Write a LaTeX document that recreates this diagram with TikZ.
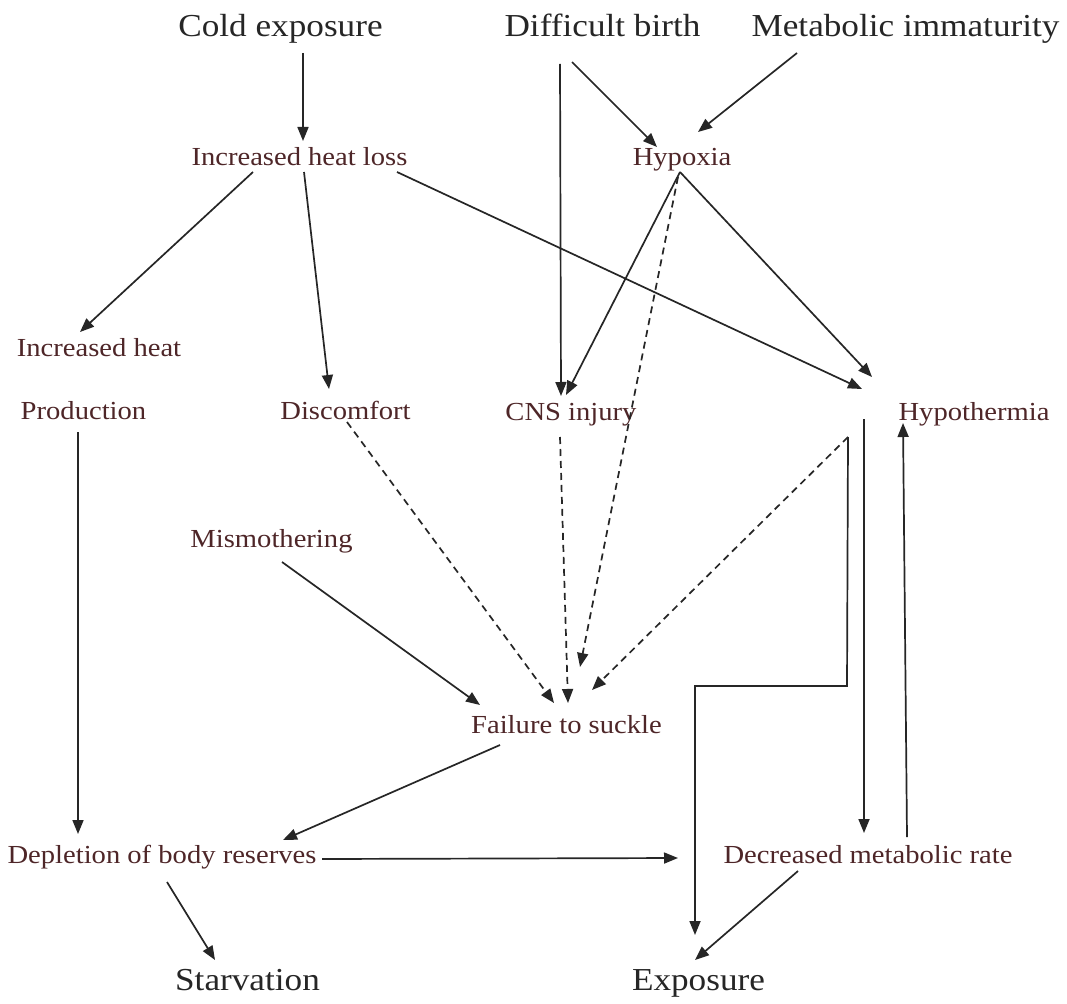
\documentclass[tikz,border=0pt]{standalone}
\usepackage{fontspec}
\setmainfont{Liberation Serif}[FakeStretch=1.1]
\usetikzlibrary{arrows.meta,calc}
\definecolor{bigtxt}{HTML}{262626}
\definecolor{midtxt}{HTML}{4E2628}
\definecolor{linec}{HTML}{262626}
\tikzset{
  big/.style={anchor=base,inner sep=0pt,text=bigtxt,font=\fontsize{32}{36}\selectfont},
  mid/.style={anchor=base,inner sep=0pt,text=midtxt,font=\fontsize{26}{30}\selectfont},
  arr/.style={draw=linec,line width=1.7pt,-{Triangle[length=14pt,width=11pt]}},
  darr/.style={arr,dash pattern=on 7pt off 5pt},
  plain/.style={draw=linec,line width=1.7pt}
}
\begin{document}
\begin{tikzpicture}[x=1pt,y=-1pt]
\useasboundingbox[fill=white] (0,0) rectangle (1067,1003);
% nodes (base positions)
\node[big] (cold) at (280.5,37) {Cold exposure};
\node[big] (difficult) at (602.5,37) {Difficult birth};
\node[big] (metabolic) at (905.5,37) {Metabolic immaturity};
\node[mid] (heatloss) at (299.5,166) {Increased heat loss};
\node[mid] (hypoxia) at (682,166) {Hypoxia};
\node[mid] (incheat) at (99,356) {Increased heat};
\node[mid] (production) at (83.5,419) {Production};
\node[mid] (discomfort) at (345.5,419) {Discomfort};
\node[mid] (cns) at (571,420) {CNS injury};
\node[mid] (hypothermia) at (974,420) {Hypothermia};
\node[mid] (mismothering) at (271.5,547) {Mismothering};
\node[mid] (failure) at (566.5,733) {Failure to suckle};
\node[mid] (depletion) at (162,863) {Depletion of body reserves};
\node[mid] (decreased) at (868,863) {Decreased metabolic rate};
\node[big] (starvation) at (247.5,990) {Starvation};
\node[big] (exposure) at (698.5,990) {Exposure};
% connectors
\draw[arr] ($(cold.base)+(22.5,16)$) -- ($(heatloss.base)+(3.5,-25)$);
\draw[arr] ($(heatloss.base)+(-46.5,6)$) -- ($(incheat.base)+(-19,-24)$);
\draw[arr] ($(heatloss.base)+(4.5,6)$) -- ($(discomfort.base)+(-16.5,-30)$);
\draw[arr] ($(heatloss.base)+(97.5,6)$) -- ($(hypothermia.base)+(-112,-31)$);
\draw[arr] ($(difficult.base)+(-42.5,27)$) -- ($(cns.base)+(-10,-24)$);
\draw[arr] ($(difficult.base)+(-30.5,25)$) -- ($(hypoxia.base)+(-25,-19)$);
\draw[arr] ($(metabolic.base)+(-108.5,16)$) -- ($(hypoxia.base)+(16,-34)$);
\draw[arr] ($(hypoxia.base)+(-2,6)$) -- ($(cns.base)+(-5,-25)$);
\draw[arr] ($(hypoxia.base)+(-2,6)$) -- ($(hypothermia.base)+(-102,-43)$);
\draw[darr] ($(hypoxia.base)+(-4,11)$) -- ($(failure.base)+(13.5,-66)$);
\draw[darr] ($(discomfort.base)+(1.5,3)$) -- ($(failure.base)+(-12.5,-30)$);
\draw[darr] ($(cns.base)+(-11,17)$) -- ($(failure.base)+(1.5,-30)$);
\draw[darr] ($(hypothermia.base)+(-126,17)$) -- ($(failure.base)+(25.5,-43)$);
\draw[arr] ($(mismothering.base)+(10.5,15)$) -- ($(failure.base)+(-86.5,-28)$);
\draw[arr] ($(production.base)+(-5.5,13)$) -- ($(depletion.base)+(-84,-29)$);
\draw[arr] ($(failure.base)+(-66.5,12)$) -- ($(depletion.base)+(121,-23)$);
\draw[arr] ($(depletion.base)+(160,-4)$) -- ($(decreased.base)+(-190,-5)$);
\draw[arr] ($(hypothermia.base)+(-126,17)$) -- ($(hypothermia.base)+(-127,266)$)
   -- ($(exposure.base)+(-3.5,-304)$) -- ($(exposure.base)+(-3.5,-55)$);
\draw[arr] ($(hypothermia.base)+(-110,-1)$) -- ($(decreased.base)+(-4,-30)$);
\draw[arr] ($(decreased.base)+(39,-26)$) -- ($(hypothermia.base)+(-71,3)$);
\draw[arr] ($(depletion.base)+(5,19)$) -- ($(starvation.base)+(-32.5,-30)$);
\draw[arr] ($(decreased.base)+(-70,8)$) -- ($(exposure.base)+(-3.5,-30)$);
\end{tikzpicture}
\end{document}
